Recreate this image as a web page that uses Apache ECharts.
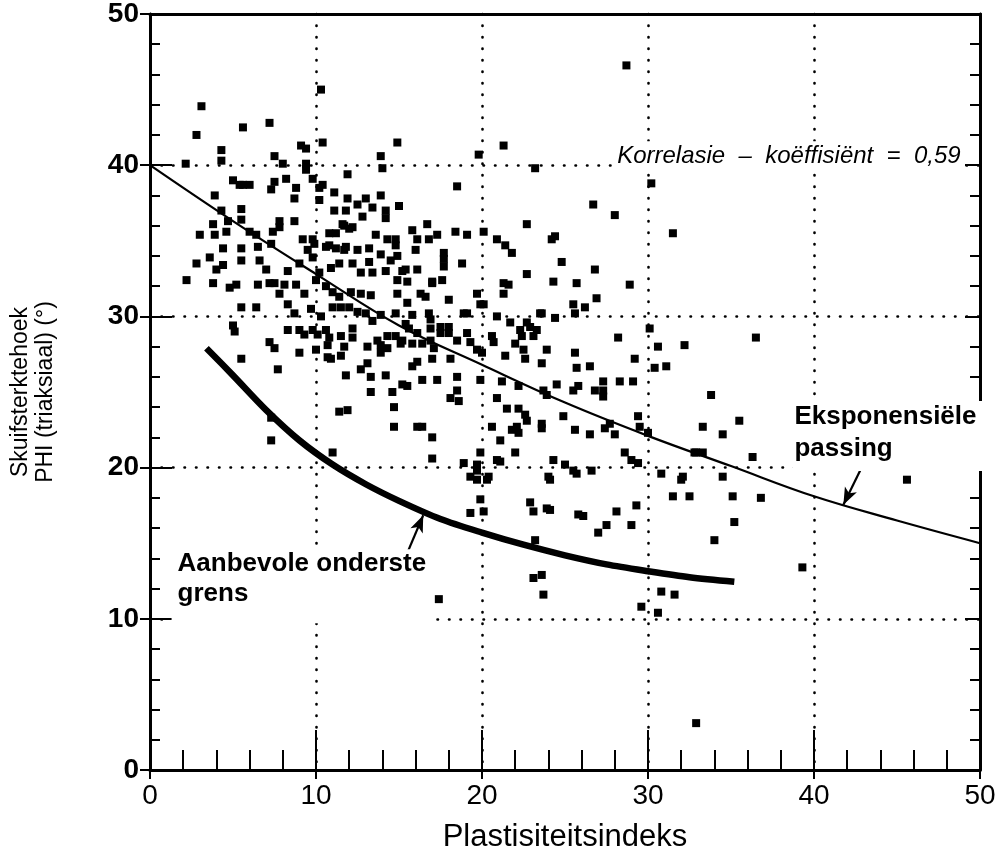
<!DOCTYPE html>
<html>
<head>
<meta charset="utf-8">
<script src="https://cdn.jsdelivr.net/npm/echarts@6/dist/echarts.min.js"></script>
<style>
  html, body { margin: 0; padding: 0; background: #fff; }
  #chart { width: 1003px; height: 866px; }
</style>
</head>
<body>
<div id="chart"></div>
<script>
// Triaxial friction angle (deg) against plasticity index: [PI, PHI]
const samples = [
  [10.3,45.0],[3.1,43.9],[2.8,42.0],[5.6,42.5],[7.2,42.8],[9.1,41.3],[9.4,41.1],[10.4,41.5],[14.9,41.5],
  [4.3,41.0],[4.3,40.3],[7.5,40.6],[8.0,40.1],[9.4,40.1],[9.4,39.7],[2.15,40.1],[13.9,40.6],[14.0,39.8],
  [11.9,39.4],[9.8,39.1],[10.4,38.7],[5.0,39.0],[5.4,38.7],[5.6,38.7],[6.0,38.7],[7.5,38.9],[7.3,38.4],
  [8.2,39.1],[8.8,38.5],[8.7,37.8],[10.2,38.5],[10.2,37.7],[11.1,38.2],[11.9,37.8],[12.5,37.4],[13.0,37.8],
  [13.9,38.0],[15.0,37.3],[3.9,38.0],[4.3,37.0],[4.7,36.3],[5.5,37.1],[5.5,36.4],[3.8,36.1],[3.0,35.4],
  [3.9,35.4],[4.6,35.6],[6.0,35.6],[6.4,35.4],[7.4,35.6],[7.8,36.3],[8.7,36.3],[11.1,37.0],[11.8,37.0],
  [11.6,36.1],[12.0,35.8],[13.4,37.2],[14.2,37.0],[14.2,36.5],[12.8,36.6],[13.6,35.4],[14.3,35.1],[14.8,35.1],
  [15.8,35.7],[16.7,36.1],[16.1,35.1],[16.8,35.1],[17.3,35.4],[9.2,35.1],[9.8,35.1],[10.8,35.5],[11.2,35.5],
  [28.7,46.6],[21.3,41.3],[19.8,40.7],[23.2,39.8],[30.2,38.8],[18.5,38.6],[26.7,37.4],[28.0,36.7],[31.5,35.5],
  [18.4,35.6],[19.1,35.4],[20.1,35.6],[20.9,35.1],[21.4,34.7],[22.7,36.1],[24.2,35.1],[24.4,35.3],[21.8,34.2],
  [11.7,36.0],[12.2,35.9],[10.8,34.7],[11.2,34.5],[11.8,34.6],[12.5,34.4],[13.2,34.5],[13.9,34.1],[14.5,33.7],
  [14.9,34.0],[14.8,34.7],[16.0,34.4],[17.7,34.2],[17.7,33.8],[17.7,33.3],[18.8,33.5],[15.4,33.1],[15.5,32.3],
  [16.1,33.1],[17.0,32.3],[17.6,32.4],[14.9,32.4],[18.0,31.1],[19.7,31.5],[20.1,30.8],[21.3,32.2],[21.3,31.5],
  [21.6,32.1],[22.7,32.8],[23.6,30.2],[20.9,30.0],[21.7,29.6],[22.7,29.6],[22.3,29.1],[20.6,28.7],[20.7,28.3],
  [18.9,30.2],[19.1,30.2],[16.8,30.2],[19.9,30.8],[23.9,27.8],[22.0,28.2],[22.5,27.8],[18.0,29.3],[18.0,28.9],
  [19.1,28.9],[19.3,28.3],[18.5,28.4],[16.9,29.8],[16.9,29.2],[7.8,35.9],[4.4,34.5],[5.5,34.5],[6.5,34.6],
  [7.3,34.8],[3.6,33.9],[2.8,33.5],[4.0,33.1],[4.4,33.4],[5.5,33.7],[6.6,33.7],[7.0,33.1],[8.3,33.0],
  [9.0,33.5],[9.8,33.9],[9.5,34.4],[9.9,34.8],[10.6,34.6],[10.2,32.9],[10.9,33.2],[11.4,33.5],[12.2,33.5],
  [12.7,32.9],[11.7,34.4],[13.2,33.6],[13.4,32.9],[2.2,32.4],[3.8,32.2],[4.8,31.9],[5.2,32.1],[6.5,32.1],
  [7.2,32.2],[7.5,32.2],[8.1,32.1],[8.8,32.1],[7.8,31.5],[9.3,31.5],[10.0,32.4],[10.6,32.0],[11.0,31.6],
  [11.4,31.3],[12.1,31.6],[12.7,31.5],[13.3,31.4],[5.5,30.6],[6.4,30.6],[8.3,30.8],[8.7,30.2],[9.7,30.5],
  [10.3,30.0],[11.0,30.6],[11.5,30.6],[12.0,30.6],[12.5,30.3],[13.0,30.2],[13.4,29.7],[5.0,29.4],[5.1,29.0],
  [7.2,28.3],[7.5,27.9],[8.3,29.1],[9.0,29.1],[9.3,28.8],[9.8,29.1],[10.1,28.8],[10.6,29.1],[10.8,28.6],
  [9.0,27.6],[10.0,27.8],[10.7,27.3],[11.5,28.7],[11.7,28.0],[12.2,28.6],[13.1,28.0],[12.2,29.2],[13.7,28.4],
  [5.5,27.2],[7.7,26.5],[10.7,28.1],[10.9,27.2],[11.5,27.4],[11.8,26.1],[12.7,26.5],[13.3,26.0],[14.2,26.1],
  [13.1,26.9],[13.3,25.0],[14.6,25.0],[15.2,25.5],[15.5,25.4],[16.4,25.8],[16.1,27.0],[15.8,26.7],[17.3,25.8],
  [17.0,27.2],[11.4,23.7],[11.9,23.8],[14.7,24.0],[14.7,22.7],[16.1,22.7],[16.4,22.7],[17.0,22.0],[17.0,20.6],
  [11.0,21.0],[7.3,21.8],[7.3,23.3],[13.9,28.1],[14.3,27.9],[15.1,28.2],[15.8,28.2],[16.4,28.2],[13.9,30.1],
  [14.8,30.2],[14.9,31.5],[15.2,33.0],[16.3,31.5],[16.6,31.3],[17.0,32.2],[15.8,30.1],[15.5,30.9],[24.8,33.6],
  [26.8,33.1],[24.3,32.3],[25.7,32.2],[28.9,32.1],[25.5,30.8],[25.6,30.2],[26.2,30.6],[26.9,31.2],[24.4,29.9],
  [23.5,30.2],[23.3,29.1],[22.4,28.7],[22.6,27.2],[23.6,26.9],[25.6,27.6],[25.7,26.6],[26.5,26.7],[28.2,28.6],
  [29.2,27.2],[30.1,29.2],[30.6,28.0],[32.2,28.1],[30.4,26.6],[31.1,26.7],[26.8,25.1],[27.3,25.7],[27.3,25.1],
  [27.3,24.7],[28.3,25.7],[29.1,25.7],[25.5,25.1],[25.8,25.4],[24.5,25.5],[23.7,25.1],[23.9,24.8],[22.2,25.4],
  [21.2,25.7],[19.9,25.8],[20.9,24.6],[18.5,26.0],[18.5,25.1],[18.1,24.6],[18.6,24.4],[18.1,27.2],[19.9,21.0],
  [19.7,20.2],[19.7,19.8],[18.9,20.3],[19.3,19.4],[20.6,22.7],[21.1,21.8],[20.9,20.5],[21.1,20.4],[21.5,23.9],
  [22.2,23.9],[22.6,23.5],[22.7,23.1],[21.8,22.5],[22.1,22.7],[22.2,22.3],[23.6,22.9],[23.6,22.6],[22.0,21.0],
  [24.9,23.4],[25.6,22.5],[26.5,22.2],[27.4,22.6],[27.7,22.9],[28.0,22.2],[29.4,23.4],[29.5,22.7],[30.0,22.3],
  [28.6,21.0],[29.0,20.5],[29.4,20.3],[32.8,21.0],[24.3,20.5],[25.0,20.2],[25.5,19.8],[25.7,19.6],[26.6,19.8],
  [24.0,19.4],[30.8,19.6],[32.1,19.4],[20.4,19.4],[36.5,28.6],[33.8,24.8],[33.3,22.7],[34.5,22.2],[35.5,23.1],
  [32.9,21.0],[33.3,21.0],[36.3,20.7],[32.0,19.2],[34.5,19.4],[31.5,18.1],[32.5,18.1],[35.1,18.1],[36.8,18.0],
  [35.2,16.4],[45.6,19.2],[25.8,16.9],[26.1,16.8],[28.1,17.1],[29.3,17.5],[27.0,15.7],[27.5,16.2],[29.0,16.2],
  [34.0,15.2],[39.3,13.4],[30.8,11.8],[31.6,11.6],[29.6,10.8],[30.6,10.4],[32.9,3.1],[24.1,17.2],[17.4,11.3],
  [19.7,19.2],[20.3,19.2],[19.9,17.9],[19.3,17.0],[20.1,17.1],[22.9,17.7],[23.1,17.1],[23.9,17.3],[24.1,19.2],
  [23.2,15.2],[23.1,12.7],[23.6,12.9],[23.7,11.6],[14.2,33.0],[15.4,29.5],[15.6,29.2],[16.1,28.9],[17.5,29.3],
  [17.5,28.9],[14.8,28.7],[15.2,28.4],[16.9,28.4],[17.1,27.9],[19.7,27.8],[20.0,27.6],[21.4,27.4],[22.9,29.3],
  [23.1,28.7],[13.9,27.6],[14.3,28.7]
];

// Exponential fit through the cloud
const fitPI  = [0, 5, 10, 15, 20, 25, 30, 35, 40, 45, 50];
const fitPHI = [40.0, 36.3, 32.8, 29.4, 26.8, 24.3, 22.1, 20.1, 18.1, 16.5, 15.0];

// Recommended lower limit
const boundPI  = [3.4, 5.0, 7.0, 9.0, 11.0, 13.0, 15.0, 17.5, 20.0, 22.5, 25.0, 27.5, 30.0, 32.5, 35.2];
const boundPHI = [27.9, 26.1, 23.8, 21.8, 20.2, 18.9, 17.8, 16.6, 15.7, 14.9, 14.2, 13.6, 13.15, 12.75, 12.45];

const xTicks = [0, 10, 20, 30, 40, 50];
const yTicks = [0, 10, 20, 30, 40, 50];

const xTitle = 'Plastisiteitsindeks';
const yTitle = 'Skuifsterktehoek\nPHI (triaksiaal) (°)';
const corrText = 'Korrelasie  –  koëffisiënt  =  0,59';
const fitText = 'Eksponensiële\npassing';
const boundText = 'Aanbevole onderste\ngrens';

const SANS = '"Liberation Sans", Arial, Helvetica, sans-serif';
const INK = '#000';

const chart = echarts.init(document.getElementById('chart'), null, { renderer: 'canvas' });

const dotted = { color: INK, width: 2.6, type: [0.5, 11], cap: 'round' };
const span = { min: xTicks[0], max: xTicks[xTicks.length - 1], interval: xTicks[1] - xTicks[0] };
const yspan = { min: yTicks[0], max: yTicks[yTicks.length - 1], interval: yTicks[1] - yTicks[0] };

const option = {
  backgroundColor: '#fff',
  animation: false,
  grid: { left: 150, right: 23, top: 14, bottom: 96, containLabel: false },
  xAxis: [
    {
      type: 'value', ...span, position: 'bottom',
      axisLine: { show: true, onZero: false, lineStyle: { color: INK, width: 3 } },
      axisTick: { show: true, inside: false, length: 9, lineStyle: { color: INK, width: 2 } },
      axisLabel: { margin: 12, color: INK, fontFamily: SANS, fontSize: 28 },
      splitLine: { show: true, lineStyle: dotted },
      name: xTitle, nameLocation: 'middle', nameGap: 52,
      nameTextStyle: { color: INK, fontFamily: SANS, fontSize: 31 }
    },
    {
      type: 'value', ...span, position: 'bottom',
      axisLine: { show: false, onZero: false },
      axisTick: { show: true, inside: true, length: 40, lineStyle: { color: INK, width: 2 } },
      minorTick: { show: true, splitNumber: 5, length: 20, lineStyle: { color: INK, width: 2 } },
      axisLabel: { show: false }, splitLine: { show: false }
    },
    {
      type: 'value', ...span, position: 'top',
      axisLine: { show: true, onZero: false, lineStyle: { color: INK, width: 3 } },
      axisTick: { show: false }, axisLabel: { show: false }, splitLine: { show: false }
    }
  ],
  yAxis: [
    {
      type: 'value', ...yspan, position: 'left',
      axisLine: { show: true, onZero: false, lineStyle: { color: INK, width: 3 } },
      axisTick: { show: true, inside: false, length: 10, lineStyle: { color: INK, width: 2 } },
      axisLabel: { margin: 11, color: INK, fontFamily: SANS, fontSize: 28, fontWeight: 'bold' },
      splitLine: { show: true, lineStyle: dotted },
      name: yTitle, nameLocation: 'middle', nameGap: 92, nameRotate: 90,
      nameTextStyle: { color: INK, fontFamily: SANS, fontSize: 23, lineHeight: 25, align: 'center' }
    },
    {
      type: 'value', ...yspan, position: 'left',
      axisLine: { show: false, onZero: false },
      axisTick: { show: true, inside: true, length: 22, lineStyle: { color: INK, width: 2 } },
      minorTick: { show: true, splitNumber: 5, length: 10, lineStyle: { color: INK, width: 2 } },
      axisLabel: { show: false }, splitLine: { show: false }
    },
    {
      type: 'value', ...yspan, position: 'right',
      axisLine: { show: true, onZero: false, lineStyle: { color: INK, width: 3 } },
      axisTick: { show: true, inside: true, length: 15, lineStyle: { color: INK, width: 2 } },
      minorTick: { show: true, splitNumber: 5, length: 10, lineStyle: { color: INK, width: 2 } },
      axisLabel: { show: false }, splitLine: { show: false }
    }
  ],
  series: [
    {
      name: 'fit', type: 'line', xAxisIndex: 0, yAxisIndex: 0,
      data: fitPI.map((x, i) => [x, fitPHI[i]]),
      smooth: 0.4, showSymbol: false, symbol: 'none', silent: true,
      lineStyle: { color: INK, width: 2.2 }, z: 3,
      markLine: {
        silent: true, symbol: ['none', 'arrow'], symbolSize: [10, 17], precision: 3,
        label: { show: false },
        lineStyle: { color: INK, width: 2.2, type: 'solid' },
        data: [
          [{ coord: [42.87, 20.0] }, { coord: [41.77, 17.55] }],
          [{ coord: [15.36, 14.0] }, { coord: [16.46, 16.85] }]
        ]
      }
    },
    {
      name: 'bound', type: 'line', xAxisIndex: 0, yAxisIndex: 0,
      data: boundPI.map((x, i) => [x, boundPHI[i]]),
      smooth: 0.3, showSymbol: false, symbol: 'none', silent: true,
      lineStyle: { color: INK, width: 6.5, cap: 'butt', join: 'round' }, z: 3
    },
    {
      name: 'samples', type: 'scatter', xAxisIndex: 0, yAxisIndex: 0,
      data: samples, symbol: 'rect', symbolSize: 8,
      itemStyle: { color: INK, opacity: 1 }, silent: true, z: 4
    }
  ]
};

chart.setOption(option);

// Annotation texts placed in data space; white boxes break the grid under them
function px(x, y) { return chart.convertToPixel({ xAxisIndex: 0, yAxisIndex: 0 }, [x, y]); }
const pCorr = px(27.9, 40);
const pFit = px(38.7, 24.4);
const pBound = px(1.3, 14.6);

chart.setOption({
  graphic: [
    {
      type: 'text', x: pCorr[0], y: pCorr[1] + 6, z: 10,
      style: {
        text: corrText, fill: INK, fontFamily: SANS, fontSize: 24, fontStyle: 'italic',
        verticalAlign: 'bottom', align: 'left', backgroundColor: '#fff', padding: [3, 4, 3, 4]
      }
    },
    {
      type: 'text', x: pFit[0], y: pFit[1], z: 10,
      style: {
        text: fitText, fill: INK, fontFamily: SANS, fontSize: 26, fontWeight: 'bold', lineHeight: 32,
        verticalAlign: 'top', align: 'left', backgroundColor: '#fff', padding: [0, 6, 6, 2]
      }
    },
    {
      type: 'text', x: pBound[0], y: pBound[1], z: 10,
      style: {
        text: boundText, fill: INK, fontFamily: SANS, fontSize: 26, fontWeight: 'bold', lineHeight: 30,
        verticalAlign: 'top', align: 'left', backgroundColor: '#fff', padding: [0, 4, 14, 6]
      }
    }
  ]
});
</script>
</body>
</html>
